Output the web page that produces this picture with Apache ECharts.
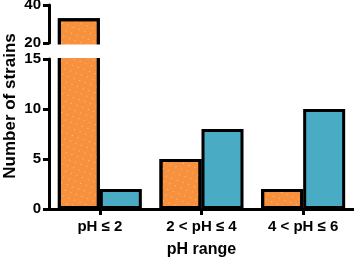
<!DOCTYPE html>
<html><head><meta charset="utf-8">
<script src="https://cdn.jsdelivr.net/npm/echarts@6/dist/echarts.min.js"></script>
<style>html,body{margin:0;padding:0;background:#fff}#c{width:354px;height:257px}</style>
</head><body><div id="c"></div>
<script>
const categories = ['pH ≤ 2', '2 < pH ≤ 4', '4 < pH ≤ 6'];
const orangeValues = [33, 5, 2];
const blueValues = [2, 8, 10];
const lowerRange = [0, 15];
const upperRange = [20, 40];
const lowerInterval = 5;
const upperInterval = 20;
const yTitle = 'Number of strains';
const xTitle = 'pH range';

const FONT = "'Liberation Sans', Arial, sans-serif";
const ORANGE = '#F7913D';
const BLUE = '#4AABC5';
const decal = {
  symbol: 'circle', symbolSize: 1, symbolKeepAspect: true,
  color: 'rgba(255,255,255,0.6)', backgroundColor: null,
  dashArrayX: [1, 5], dashArrayY: [1, 5], rotation: 0.35
};

// layout (pixels)
const L = 49, W = 305;
const UP_TOP = 5, UP_H = 38;          // 40 -> 20
const LO_TOP = 59, LO_H = 150;        // 15 -> 0
const EXT = 8;                        // bars extend into the break, hidden under the gap
const upScale = UP_H / (upperRange[1] - upperRange[0]);
const loScale = LO_H / (lowerRange[1] - lowerRange[0]);

const upperOf = arr => arr.map(v => v > lowerRange[1] ? v : '-');

const chart = echarts.init(document.getElementById('c'), null, {renderer: 'canvas'});
const axisLine = {show: true, lineStyle: {color: '#000', width: 3}};
const axisTick = {show: true, length: 6, lineStyle: {color: '#000', width: 3}};
const axisLabel = {color: '#000', fontWeight: 'bold', fontSize: 15, fontFamily: FONT, margin: 8};
const barCommon = {type: 'bar', barWidth: 42, barGap: '0%', animation: false, clip: true};
const hiddenCat = {type: 'category', data: categories, show: false};
const g = (top, height) => ({left: L, width: W, top: top, height: height, outerBoundsMode: 'none', containLabel: false});

chart.setOption({
  animation: false,
  grid: [
    g(UP_TOP, UP_H),                 // upper axis
    g(LO_TOP, LO_H),                 // lower axis
    g(UP_TOP, UP_H + EXT),           // upper bars
    g(LO_TOP - EXT, LO_H + EXT)      // lower bars
  ],
  xAxis: [
    Object.assign({gridIndex: 0}, hiddenCat),
    {type: 'category', gridIndex: 1, data: categories,
     axisLine: axisLine, axisTick: Object.assign({alignWithLabel: true}, axisTick),
     axisLabel: Object.assign({}, axisLabel, {margin: 10}),
     name: xTitle, nameLocation: 'middle', nameGap: 33,
     nameTextStyle: {color: '#000', fontWeight: 'bold', fontSize: 16, fontFamily: FONT}},
    Object.assign({gridIndex: 2}, hiddenCat),
    Object.assign({gridIndex: 3}, hiddenCat)
  ],
  yAxis: [
    {type: 'value', gridIndex: 0, min: upperRange[0], max: upperRange[1], interval: upperInterval,
     axisLine: axisLine, axisTick: axisTick, axisLabel: axisLabel, splitLine: {show: false}},
    {type: 'value', gridIndex: 1, min: lowerRange[0], max: lowerRange[1], interval: lowerInterval,
     axisLine: axisLine, axisTick: axisTick, axisLabel: axisLabel, splitLine: {show: false}},
    {type: 'value', gridIndex: 2, min: upperRange[0] - EXT / upScale, max: upperRange[1], show: false, splitLine: {show: false}},
    {type: 'value', gridIndex: 3, min: lowerRange[0], max: lowerRange[1] + EXT / loScale, show: false, splitLine: {show: false}}
  ],
  series: [
    Object.assign({}, barCommon, {xAxisIndex: 2, yAxisIndex: 2, data: upperOf(orangeValues),
      itemStyle: {color: ORANGE, borderColor: '#000', borderWidth: 3, decal: decal}}),
    Object.assign({}, barCommon, {xAxisIndex: 2, yAxisIndex: 2, data: upperOf(blueValues),
      itemStyle: {color: BLUE, borderColor: '#000', borderWidth: 3}}),
    Object.assign({}, barCommon, {xAxisIndex: 3, yAxisIndex: 3, data: orangeValues,
      itemStyle: {color: ORANGE, borderColor: '#000', borderWidth: 3, decal: decal}}),
    Object.assign({}, barCommon, {xAxisIndex: 3, yAxisIndex: 3, data: blueValues,
      itemStyle: {color: BLUE, borderColor: '#000', borderWidth: 3}})
  ]
});

// white break band between the two axis segments, located from the axes themselves
const yBreakTop = chart.convertToPixel({yAxisIndex: 0}, upperRange[0]) + 1.5;
const yBreakBot = chart.convertToPixel({yAxisIndex: 1}, lowerRange[1]) - 1;
chart.setOption({
  graphic: [
    {type: 'rect', z: 100, shape: {x: L + 2, y: yBreakTop, width: W, height: yBreakBot - yBreakTop},
     style: {fill: '#fff'}},
    {type: 'text', z: 100, x: 10, y: 106, rotation: Math.PI / 2,
     style: {text: yTitle, fill: '#000', font: "bold 17px " + FONT, align: 'center', verticalAlign: 'middle'}}
  ]
});
</script></body></html>
